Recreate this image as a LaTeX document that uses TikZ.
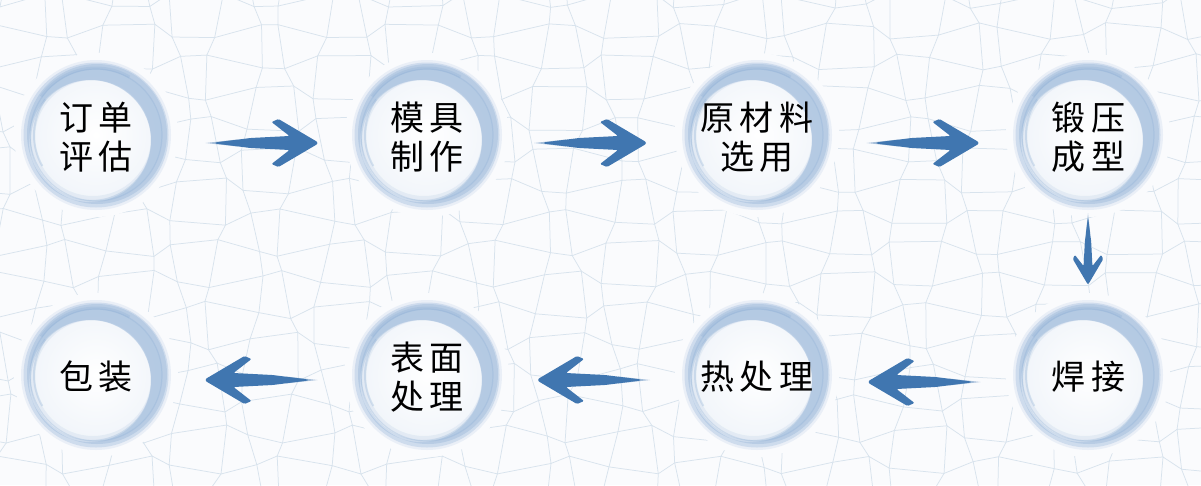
\documentclass[tikz,border=0pt]{standalone}
\usepackage{fontspec}
\newfontfamily\cjk{Noto Sans CJK SC}
\usetikzlibrary{calc}
\pgfdeclarelayer{bgA}
\pgfdeclarelayer{bgB}
\pgfsetlayers{bgA,bgB,main}
\definecolor{bgc}{HTML}{FAFBFD}
\definecolor{crackc}{HTML}{D8E3ED}
\definecolor{ringc}{HTML}{8FB0D6}
\definecolor{innerc}{HTML}{F1F5FA}
\definecolor{arrowc}{HTML}{4076B0}
\tikzset{
  stepnode/.style={circle, minimum size=116pt, inner sep=0pt, align=center,
    font=\cjk\fontsize{34}{39}\selectfont, text=black},
  crackline/.style={crackc, line width=0.75pt},
  brusharrow/.pic={
    \fill[arrowc, rounded corners=1.2pt] (-50,-0.6) -- (-15,-5) -- (24,-7) -- (6,-21) -- (13,-24)
      -- (52,-1) -- (52,1) -- (13,24) -- (6,21) -- (24,7) -- (-15,5) -- (-50,0.6) -- cycle;
    \fill[arrowc, opacity=0.45] (-60,0) -- (-28,-3.5) -- (-28,3.5) -- cycle;
  }
}
\begin{document}
\begin{tikzpicture}[x=1pt, y=-1pt]
\useasboundingbox (0,0) rectangle (1201,485);
\clip (0,0) rectangle (1201,485);
% steps
\node[stepnode] (c1) at (96,137) {订\hspace{6pt}单\\评\hspace{6pt}估};
\node[stepnode] (c2) at (427,137) {模\hspace{6pt}具\\制\hspace{6pt}作};
\node[stepnode] (c3) at (757,137) {原\hspace{6pt}材\hspace{6pt}料\\选\hspace{6pt}用};
\node[stepnode] (c4) at (1088,137) {锻\hspace{6pt}压\\成\hspace{6pt}型};
\node[stepnode] (c5) at (1088,377) {焊\hspace{6pt}接};
\node[stepnode] (c6) at (757,377) {热\hspace{6pt}处\hspace{6pt}理};
\node[stepnode] (c7) at (427,377) {表\hspace{6pt}面\\处\hspace{6pt}理};
\node[stepnode] (c8) at (96,377) {包\hspace{6pt}装};
% connectors
\pic at ($(c1)!0.5!(c2)+(4,6)$) {brusharrow};
\pic at ($(c2)!0.5!(c3)+(2,6)$) {brusharrow};
\pic at ($(c3)!0.5!(c4)+(4,6)$) {brusharrow};
\pic[rotate=-90, scale=0.63] at ($(c4)!0.5!(c5)+(0,-6)$) {brusharrow};
\pic[rotate=180] at ($(c5)!0.5!(c6)+(-2,5)$) {brusharrow};
\pic[rotate=180] at ($(c6)!0.5!(c7)+(-2,3)$) {brusharrow};
\pic[rotate=180] at ($(c7)!0.5!(c8)+(-4,3)$) {brusharrow};
% background and cracks
\begin{pgfonlayer}{bgA}
\fill[bgc] (0,0) rectangle (1201,485);
\foreach \i in {-1,...,34}{
  \foreach \j in {-1,...,16}{
    \pgfmathtruncatemacro\ii{\i+1}
    \pgfmathtruncatemacro\jj{\j+1}
    \pgfmathsetmacro\ax{\i*36+11*sin(127*\i+311*\j)}
    \pgfmathsetmacro\ay{\j*31+9*sin(269*\i+183*\j+50)}
    \pgfmathsetmacro\bx{\ii*36+11*sin(127*\ii+311*\j)}
    \pgfmathsetmacro\by{\j*31+9*sin(269*\ii+183*\j+50)}
    \pgfmathsetmacro\cx{\i*36+11*sin(127*\i+311*\jj)}
    \pgfmathsetmacro\cy{\jj*31+9*sin(269*\i+183*\jj+50)}
    \draw[crackline] (\bx,\by) -- (\ax,\ay) -- (\cx,\cy);
  }
}
\end{pgfonlayer}
% ink rings
\begin{pgfonlayer}{bgB}
\foreach \n in {c1,c2,c3,c4,c5,c6,c7,c8}{
  \begin{scope}[shift={(\n.center)}, yshift=2pt]
    \shade[inner color=white, outer color=bgc] (0,0) circle (82);
    \shade[inner color=white, outer color=innerc] (0,0) circle (66);
    \fill[ringc, opacity=0.15, even odd rule] (0,0) circle (75) (-3,3) circle (58);
    \fill[ringc, opacity=0.3, even odd rule] (0,0) circle (72.5) (-5,5) circle (60);
    \fill[ringc, opacity=0.35, even odd rule] (1,-1) circle (70) (-6,6) circle (61);
    \draw[ringc, line width=1.2pt, opacity=0.3] (0,0) circle (66);
    \draw[ringc, line width=2pt, opacity=0.3] (150:62) arc[start angle=150, end angle=215, radius=62];
    \draw[ringc, line width=3pt, opacity=0.3] (215:67) arc[start angle=215, end angle=300, radius=67];
  \end{scope}
}
\end{pgfonlayer}
\end{tikzpicture}
\end{document}
